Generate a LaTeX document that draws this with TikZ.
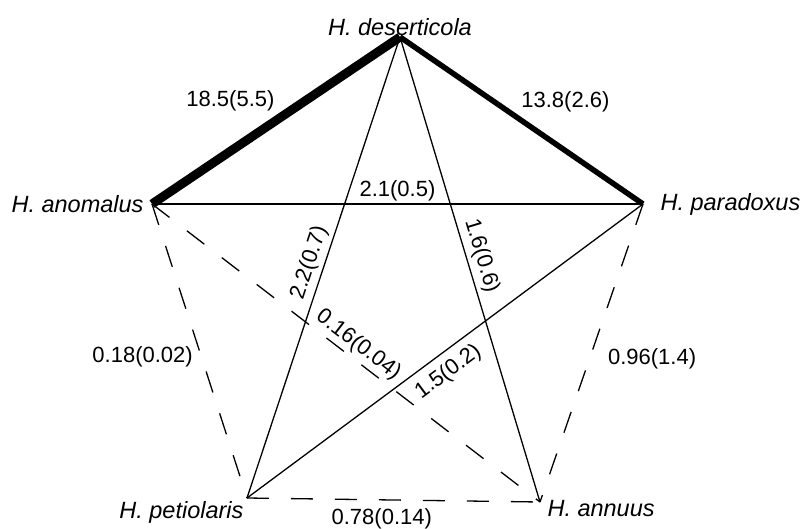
\documentclass[tikz,border=0pt]{standalone}
\usepackage{fontspec}
\setmainfont{Liberation Sans}
\begin{document}
\begin{tikzpicture}[
      x=1pt, y=-1pt,
      every node/.style={font=\fontsize{22}{26}\selectfont},
      especie/.style={font=\fontsize{23.5}{27}\selectfont\itshape},
      cifra/.style={inner sep=2pt},
      fino/.style={line width=1.3pt},
      fuerte/.style={line width=#1},
      debil/.style={line width=1.3pt, dash pattern=on 22pt off 22pt}
    ]
    \useasboundingbox (0,0) rectangle (804,528);
    \coordinate[label={[especie, label distance=-2pt]above:H. deserticola}] (des) at (400,37);
    \coordinate[label={[especie, label distance=5pt]left:H. anomalus}] (ano) at (152,204);
    \coordinate[label={[especie, label distance=14pt]right:H. paradoxus}] (par) at (643,204);
    \coordinate[label={[especie]below left:H. petiolaris}] (pet) at (247,498);
    \coordinate[label={[especie, xshift=4pt, yshift=5pt]below right:H. annuus}] (ann) at (540,502);
    % enlaces fuertes
    \draw[fuerte=9pt] (ano) -- node[cifra, pos=0.52, anchor=south east] {18.5(5.5)} (des);
    \draw[fuerte=5.5pt] (des) -- node[cifra, pos=0.48, anchor=south west] {13.8(2.6)} (par);
    % enlaces simples
    \draw[fino] (ano) -- node[cifra, above] {2.1(0.5)} (par);
    \draw[fino] (pet) -- node[cifra, sloped, above, inner sep=4pt] {2.2(0.7)} (des);
    \draw[fino] (des) -- node[cifra, sloped, above, pos=0.48, inner sep=4pt] {1.6(0.6)} (ann);
    \draw[fino] (pet) -- node[cifra, sloped, below, pos=0.48, inner sep=8pt] {1.5(0.2)} (par);
    % enlaces debiles
    \draw[debil] (ano) -- node[cifra, sloped, above, pos=0.51, inner sep=3pt] {0.16(0.04)} (ann);
    \draw[debil] (ano) -- node[cifra, left=6pt, pos=0.52] {0.18(0.02)} (pet);
    \draw[debil] (par) -- node[cifra, right=16pt, pos=0.52] {0.96(1.4)} (ann);
    \draw[debil] (pet) -- node[cifra, below=6pt, pos=0.46] {0.78(0.14)} (ann);
  \end{tikzpicture}
\end{document}
